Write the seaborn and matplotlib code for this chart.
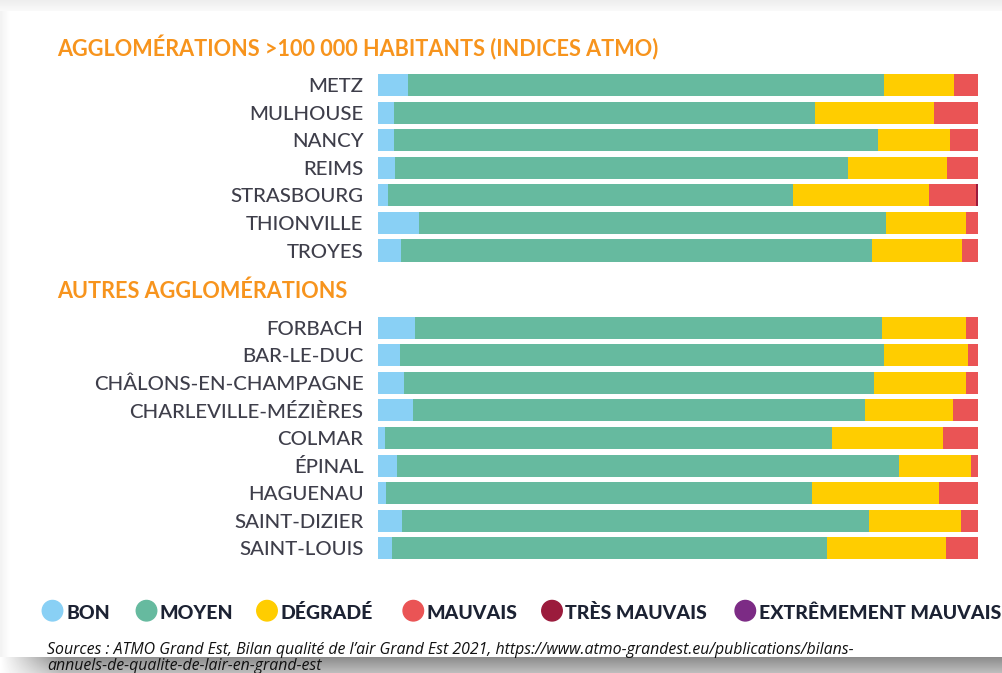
import numpy as np
import pandas as pd
import matplotlib
matplotlib.use("Agg")
import matplotlib.pyplot as plt
import seaborn as sns

sns.set_theme(style="white")
plt.rcParams["font.family"] = ["Lato", "DejaVu Sans"]

# données (parts des jours, en %)
categories = ["BON", "MOYEN", "DÉGRADÉ", "MAUVAIS", "TRÈS MAUVAIS", "EXTRÊMEMENT MAUVAIS"]
palette = ["#89D0F5", "#66BA9F", "#FFCD00", "#EA5455", "#9B1B3C", "#7C2B85"]

villes_grandes = ["METZ", "MULHOUSE", "NANCY", "REIMS", "STRASBOURG", "THIONVILLE", "TROYES"]
grandes_bon = [5.0, 2.6, 2.6, 2.9, 1.7, 6.8, 3.9]
grandes_moyen = [79.3, 70.2, 80.8, 75.5, 67.5, 77.8, 78.4]
grandes_degrade = [11.7, 19.9, 12.0, 16.5, 22.6, 13.4, 15.1]
grandes_mauvais = [4.0, 7.3, 4.6, 5.1, 7.9, 2.0, 2.6]
grandes_tres_mauvais = [0.0, 0.0, 0.0, 0.0, 0.3, 0.0, 0.0]
grandes_extreme = [0.0, 0.0, 0.0, 0.0, 0.0, 0.0, 0.0]

villes_autres = ["FORBACH", "BAR-LE-DUC", "CHÂLONS-EN-CHAMPAGNE", "CHARLEVILLE-MÉZIÈRES",
                 "COLMAR", "ÉPINAL", "HAGUENAU", "SAINT-DIZIER", "SAINT-LOUIS"]
autres_bon = [6.2, 3.7, 4.3, 5.9, 1.2, 3.1, 1.4, 4.0, 2.3]
autres_moyen = [77.8, 80.6, 78.3, 75.3, 74.4, 83.7, 70.9, 77.8, 72.5]
autres_degrade = [14.0, 14.0, 15.4, 14.6, 18.5, 12.0, 21.2, 15.4, 19.8]
autres_mauvais = [2.0, 1.7, 2.0, 4.2, 5.9, 1.2, 6.5, 2.8, 5.4]
autres_tres_mauvais = [0.0] * 9
autres_extreme = [0.0] * 9

titre_haut = "AGGLOMÉRATIONS >100 000 HABITANTS (INDICES ATMO)"
titre_bas = "AUTRES AGGLOMÉRATIONS"
source_1 = ("Sources : ATMO Grand Est, Bilan qualité de l\u2019air Grand Est 2021, "
            "https://www.atmo-grandest.eu/publications/bilans-")
source_2 = "annuels-de-qualite-de-lair-en-grand-est"


def tableau(villes, series):
    df = pd.DataFrame(dict(zip(categories, series)), index=villes)
    cum = df.cumsum(axis=1)
    cum.index.name = "ville"
    return cum.reset_index().melt(id_vars="ville", var_name="cat", value_name="cum")


def barres(ax, villes, series):
    long = tableau(villes, series)
    # on empile en superposant les cumuls, du plus long au plus court
    for cat, col in reversed(list(zip(categories, palette))):
        sub = long[long["cat"] == cat]
        sns.barplot(data=sub, x="cum", y="ville", order=villes, color=col, saturation=1,
                    width=0.8, errorbar=None, linewidth=0, ax=ax)
    ax.set_xlim(0, 100)
    ax.set_xlabel("")
    ax.set_ylabel("")
    ax.set_xticks([])
    ax.tick_params(axis="y", length=0, pad=10.5, labelsize=14.7, labelcolor="#3e3e4a")
    for t in ax.get_yticklabels():
        t.set_fontweight("medium")
    sns.despine(ax=ax, left=True, bottom=True)
    ax.set_facecolor("none")


W, H = 1003, 673
fig = plt.figure(figsize=(W / 100, H / 100), dpi=100)

# fond : carte blanche avec ombres grises
bg = fig.add_axes([0, 0, 1, 1], zorder=-5)
img = np.ones((H, W))
yy = np.arange(H)[:, None]
xx = np.arange(W)[None, :]
img = np.where(yy < 11, 0.93 + 0.05 * (yy / 11), img)
img = np.where((xx < 10) & (yy >= 11), np.minimum(img, 0.95 + 0.05 * (xx / 10)), img)
band = (yy >= 657)
fade = np.clip(xx / 60.0, 0, 1)
val = 0.55 + 0.2 * (yy - 657) / 16.0
img = np.where(band, 1 - (1 - val) * fade, img)
bg.imshow(img, cmap="gray", vmin=0, vmax=1, aspect="auto", extent=[0, W, H, 0])
bg.set_axis_off()

x0, bw = 378 / W, 600 / W
ax1 = fig.add_axes([x0, 1 - 264.3 / H, bw, (264.3 - 71.2) / H])
ax2 = fig.add_axes([x0, 1 - 561.8 / H, bw, (561.8 - 314.2) / H])

barres(ax1, villes_grandes, [grandes_bon, grandes_moyen, grandes_degrade, grandes_mauvais,
                             grandes_tres_mauvais, grandes_extreme])
barres(ax2, villes_autres, [autres_bon, autres_moyen, autres_degrade, autres_mauvais,
                            autres_tres_mauvais, autres_extreme])

orange = "#F7941D"
fig.text(57 / W, 1 - 56.7 / H, titre_haut, color=orange, fontsize=15.6, fontweight="bold",
         va="baseline", ha="left")
fig.text(57 / W, 1 - 298.3 / H, titre_bas, color=orange, fontsize=15.6, fontweight="bold",
         va="baseline", ha="left")

# légende
leg_x = [52.5, 146.5, 267, 413.3, 552, 745.3]
for cat, col, cx in zip(categories, palette, leg_x):
    fig.patches.append(matplotlib.patches.Ellipse((cx / W, 1 - 610.7 / H), 20.5 / W, 20.5 / H,
                                                  transform=fig.transFigure, color=col))
    fig.text((cx + 13.5) / W, 1 - 619.3 / H, cat, color="#1c2233", fontsize=14,
             fontweight="black", va="baseline", ha="left")

fig.text(47 / W, 1 - 654.5 / H, source_1, fontsize=11.4, style="italic",
         family=["Open Sans", "DejaVu Sans"], va="baseline", ha="left", color="#111111")
fig.text(47 / W, 1 - 669.5 / H, source_2, fontsize=11.4, style="italic",
         family=["Open Sans", "DejaVu Sans"], va="baseline", ha="left", color="#111111")

fig.savefig("out.png", dpi=100)
